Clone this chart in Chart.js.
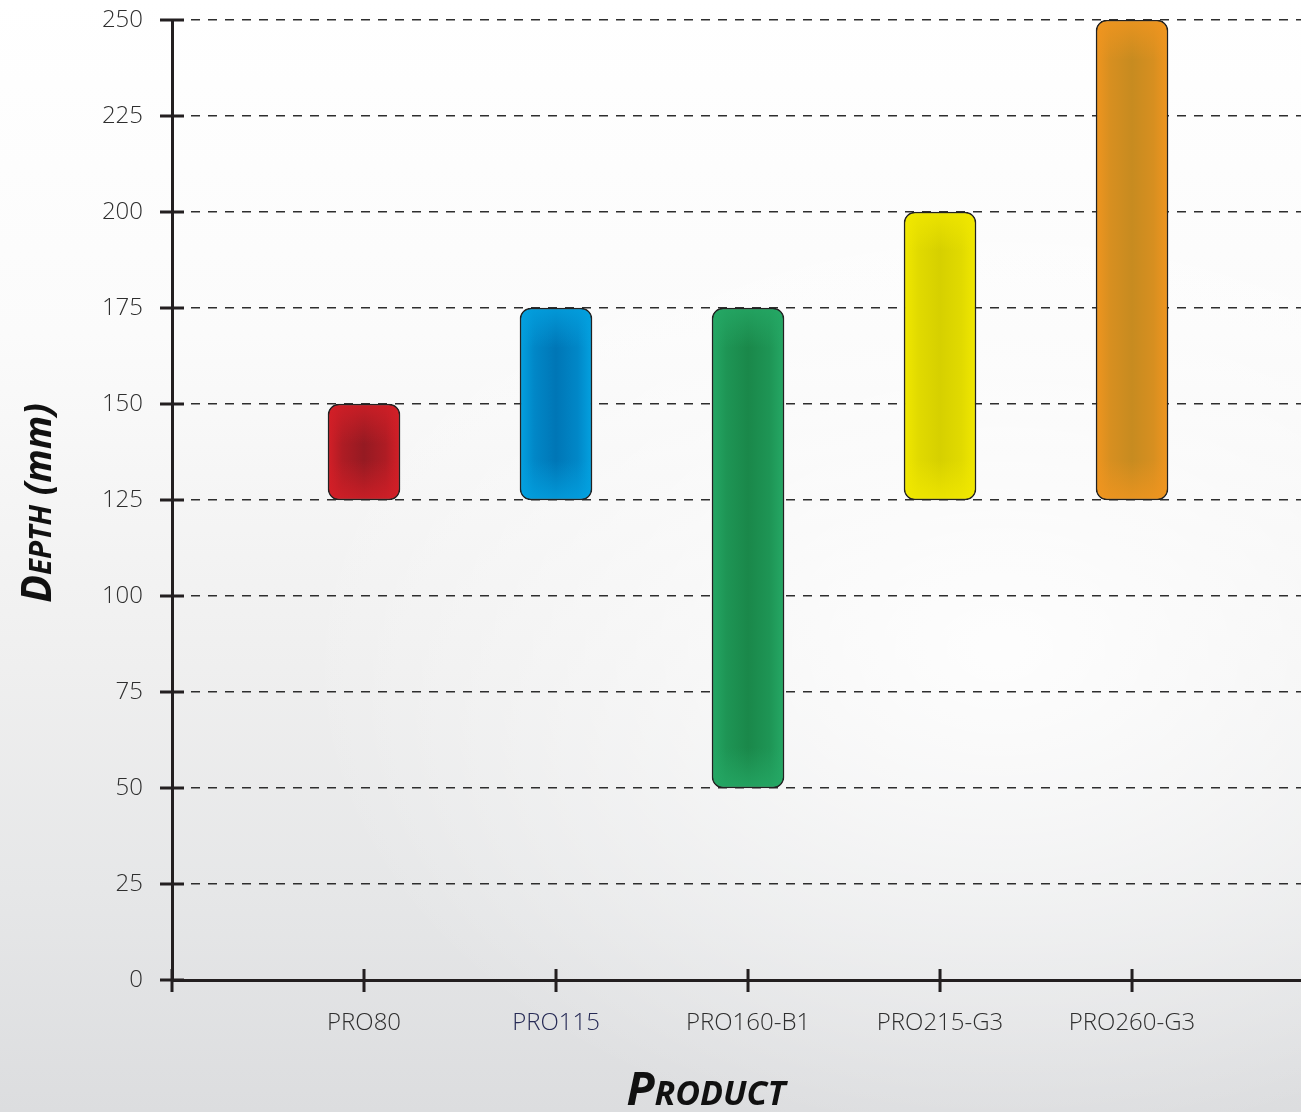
<!DOCTYPE html>
<html>
<head>
<meta charset="utf-8">
<script src="https://cdn.jsdelivr.net/npm/chart.js@4.4.1/dist/chart.umd.min.js"></script>
<style>
  html, body { margin: 0; padding: 0; }
  body {
    width: 1301px;
    height: 1112px;
    overflow: hidden;
    background:
      radial-gradient(ellipse 700px 500px at 1000px 650px, rgba(255,255,255,0.9), rgba(255,255,255,0)),
      linear-gradient(to bottom, #ffffff 0%, #fbfbfb 30%, #efefef 60%, #e6e7e8 80%, #dcdddf 100%);
  }
  #wrap { position: relative; width: 1301px; height: 1112px; }
</style>
</head>
<body>
<div id="wrap"><canvas id="depthChart"></canvas></div>
<script>
const products = ["PRO80", "PRO115", "PRO160-B1", "PRO215-G3", "PRO260-G3"];
const depthMin = [125, 125, 50, 125, 125];
const depthMax = [150, 175, 175, 200, 250];
const yTicks = [0, 25, 50, 75, 100, 125, 150, 175, 200, 225, 250];

const edgeColors = ["#d41f27", "#03a1e0", "#25a865", "#f1e800", "#f0951f"];
const centerColors = ["#951a22", "#0076b6", "#1a884a", "#d6d000", "#c78b20"];
const axisColor = "#231f20";

function toRgb(hex) {
  const n = parseInt(hex.slice(1), 16);
  return [n >> 16, (n >> 8) & 255, n & 255];
}
function rgba(hex, a) {
  const c = toRgb(hex);
  return "rgba(" + c[0] + "," + c[1] + "," + c[2] + "," + a + ")";
}
function mix(h1, h2, t) {
  const a = toRgb(h1), b = toRgb(h2);
  return "rgb(" + a.map(function (v, k) { return Math.round(v + (b[k] - v) * t); }).join(",") + ")";
}

const BAR_W = 72;

function barFill(context) {
  const chart = context.chart;
  const i = context.dataIndex;
  const xs = chart.scales.x, ys = chart.scales.y;
  if (!xs || !ys || i === undefined) return edgeColors[0];
  const top = Math.floor(ys.getPixelForValue(depthMax[i]));
  const bottom = Math.ceil(ys.getPixelForValue(depthMin[i]));
  const left = Math.floor(xs.getPixelForValue(i + 1) - BAR_W / 2);
  if (!isFinite(top) || !isFinite(bottom) || !isFinite(left)) return edgeColors[i];
  const h = Math.max(2, bottom - top);
  const c = document.createElement("canvas");
  c.width = BAR_W; c.height = h;
  const g = c.getContext("2d");
  const lg = g.createLinearGradient(0, 0, BAR_W, 0);
  lg.addColorStop(0, edgeColors[i]);
  lg.addColorStop(0.2, mix(edgeColors[i], centerColors[i], 0.6));
  lg.addColorStop(0.5, centerColors[i]);
  lg.addColorStop(0.8, mix(edgeColors[i], centerColors[i], 0.6));
  lg.addColorStop(1, edgeColors[i]);
  g.fillStyle = lg;
  g.fillRect(0, 0, BAR_W, h);
  const f = Math.min(40, h / 2) / h;
  const vg = g.createLinearGradient(0, 0, 0, h);
  vg.addColorStop(0, rgba(edgeColors[i], 0.8));
  vg.addColorStop(f, rgba(edgeColors[i], 0));
  vg.addColorStop(1 - f, rgba(edgeColors[i], 0));
  vg.addColorStop(1, rgba(edgeColors[i], 0.8));
  g.fillStyle = vg;
  g.fillRect(0, 0, BAR_W, h);
  const pat = chart.ctx.createPattern(c, "no-repeat");
  pat.setTransform(new DOMMatrix([1, 0, 0, 1, left, top]));
  return pat;
}

// draw "small caps" style title pieces: [text, size]
function drawPieces(ctx, pieces, x, y, angle) {
  ctx.save();
  ctx.translate(x, y);
  ctx.rotate(angle);
  ctx.fillStyle = "#111";
  ctx.textBaseline = "alphabetic";
  ctx.textAlign = "left";
  let total = 0;
  const widths = pieces.map(function (p) {
    ctx.font = "italic bold " + p[1] + "px 'Open Sans'";
    const w = ctx.measureText(p[0]).width;
    total += w;
    return w;
  });
  let cx = -total / 2;
  pieces.forEach(function (p, k) {
    ctx.font = "italic bold " + p[1] + "px 'Open Sans'";
    ctx.fillText(p[0], cx, 0);
    cx += widths[k];
  });
  ctx.restore();
}

const axisExtras = {
  id: "axisExtras",
  afterDraw(chart) {
    const ctx = chart.ctx;
    const xs = chart.scales.x, ys = chart.scales.y;
    const x0 = xs.getPixelForValue(0);
    const y0 = ys.getPixelForValue(0);
    ctx.save();
    ctx.strokeStyle = axisColor;
    ctx.lineWidth = 3;
    ctx.beginPath();
    yTicks.forEach(function (v) {
      const py = ys.getPixelForValue(v);
      ctx.moveTo(x0 - 12, py);
      ctx.lineTo(x0 + 12, py);
    });
    for (let k = 0; k <= products.length; k++) {
      const px = xs.getPixelForValue(k);
      ctx.moveTo(px, y0 - 11);
      ctx.lineTo(px, y0 + 12);
    }
    ctx.stroke();
    ctx.restore();

    drawPieces(ctx, [["P", 46], ["RODUCT", 34]], 706, 1105, 0);
    drawPieces(ctx, [["D", 41], ["EPTH", 29.5], [" (mm)", 37]], 51, 503, -Math.PI / 2);
  }
};

new Chart(document.getElementById("depthChart"), {
  type: "bar",
  data: {
    datasets: [
      {
        data: products.map(function (p, i) {
          return { x: i + 1, y: [depthMin[i], depthMax[i]] };
        }),
        backgroundColor: barFill,
        borderColor: "#222",
        borderWidth: 1.5,
        borderRadius: 11,
        borderSkipped: false,
        barThickness: BAR_W,
      },
    ],
  },
  options: {
    responsive: true,
    maintainAspectRatio: false,
    animation: false,
    events: [],
    layout: { padding: { top: 20, right: 0, left: 0, bottom: 0 } },
    plugins: {
      legend: { display: false },
      tooltip: { enabled: false },
    },
    scales: {
      x: {
        type: "linear",
        offset: false,
        min: 0,
        max: 5.88,
        afterBuildTicks: function (scale) {
          scale.ticks = [0, 1, 2, 3, 4, 5].map(function (v) {
            return { value: v };
          });
        },
        afterFit: function (scale) {
          scale.height = 132;
          scale.paddingLeft = 0;
          scale.paddingRight = 0;
        },
        grid: { display: false, drawTicks: false, offset: false },
        border: { display: true, color: axisColor, width: 3 },
        ticks: {
          autoSkip: false,
          maxRotation: 0,
          padding: 29,
          font: { family: "'Open Sans'", size: 24, weight: 300 },
          color: function (ctx) {
            return ctx.tick && ctx.tick.value === 2 ? "#262a55" : "#2e2e2e";
          },
          callback: function (value) {
            return products[value - 1] || "";
          },
        },
      },
      y: {
        min: 0,
        max: 250,
        afterBuildTicks: function (scale) {
          scale.ticks = yTicks.map(function (v) {
            return { value: v };
          });
        },
        afterFit: function (scale) {
          scale.width = 172;
          scale.paddingTop = 0;
          scale.paddingBottom = 0;
        },
        grid: {
          color: "#2e2e2e",
          lineWidth: 1.5,
          drawTicks: false,
        },
        border: { display: true, color: axisColor, width: 3, dash: [9, 8] },
        ticks: {
          padding: 29,
          font: { family: "'Open Sans'", size: 24, weight: 300 },
          color: "#2e2e2e",
        },
      },
    },
  },
  plugins: [axisExtras],
});
</script>
</body>
</html>
